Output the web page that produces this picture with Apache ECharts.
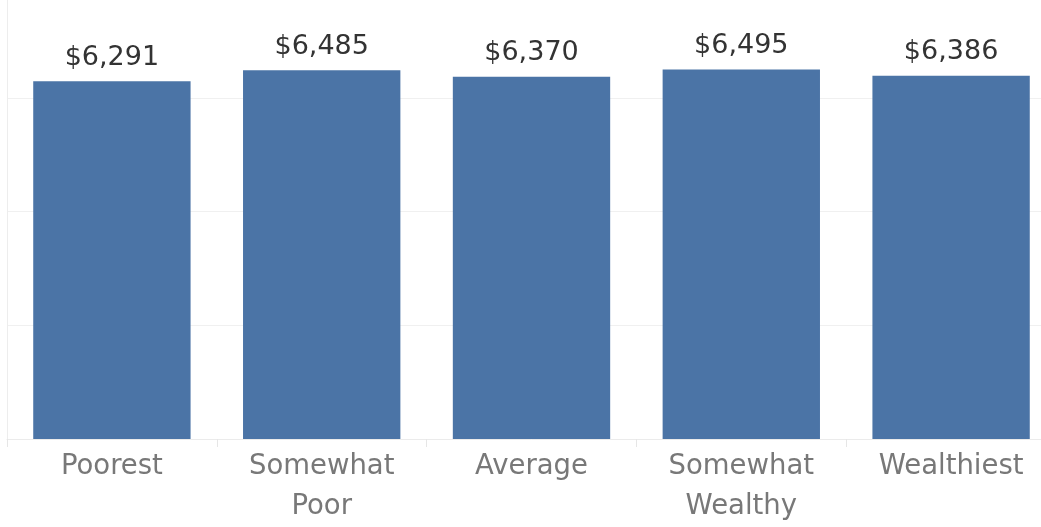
<!DOCTYPE html>
<html>
<head>
<meta charset="utf-8">
<script src="https://cdn.jsdelivr.net/npm/echarts@6/dist/echarts.min.js"></script>
<style>
  html, body { margin: 0; padding: 0; background: #fff; overflow: hidden; }
  /* the canvas is a little larger than the window: the plot runs past the top and right edges */
  #chart { width: 1056px; height: 543px; margin-top: -16px; }
</style>
</head>
<body>
<div id="chart"></div>
<script>
// Average spending by household wealth group
const categories = ['Poorest', 'Somewhat\nPoor', 'Average', 'Somewhat\nWealthy', 'Wealthiest'];
const spending = [6291, 6485, 6370, 6495, 6386];

const chart = echarts.init(document.getElementById('chart'));

chart.setOption({
  animation: false,
  grid: { left: 7, top: 0, width: 1049, height: 456, containLabel: false },
  xAxis: {
    type: 'category',
    data: categories,
    axisLine: { show: true, lineStyle: { color: '#ebebeb', width: 1 } },
    axisTick: { show: true, length: 8, lineStyle: { color: '#e6e6e6' } },
    axisLabel: {
      color: '#787878',
      fontFamily: 'DejaVu Sans',
      fontSize: 27.5,
      lineHeight: 40,
      margin: 8,
      interval: 0
    }
  },
  yAxis: {
    type: 'value',
    min: 0,
    max: 8000,
    interval: 2000,
    axisLine: { show: true, lineStyle: { color: '#ededed', width: 1 } },
    axisTick: { show: false },
    axisLabel: { show: false },
    splitLine: { lineStyle: { color: '#f0f0f0', width: 1 } }
  },
  series: [{
    type: 'bar',
    data: spending,
    barWidth: '75%',
    itemStyle: { color: '#4b74a6' },
    label: {
      show: true,
      position: 'top',
      distance: 10,
      color: '#333333',
      fontFamily: 'DejaVu Sans',
      fontSize: 27,
      formatter: p => '$' + p.value.toLocaleString('en-US')
    }
  }]
});
</script>
</body>
</html>
